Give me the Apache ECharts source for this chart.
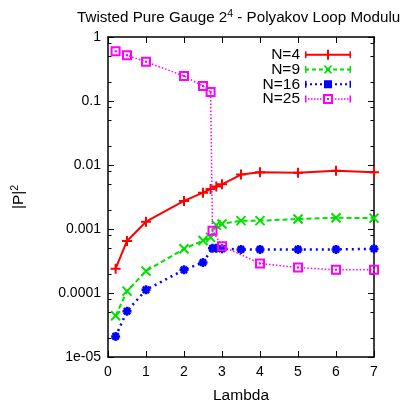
<!DOCTYPE html>
<html>
<head>
<meta charset="utf-8">
<script src="https://cdn.jsdelivr.net/npm/echarts@6/dist/echarts.min.js"></script>
<style>html,body{margin:0;padding:0;background:#fff;}#c{width:403px;height:404px;}</style>
</head>
<body>
<div id="c"></div>
<script>
// ---- data ----
const seriesNames = ['N=4', 'N=9', 'N=16', 'N=25'];
const n4Lambda  = [0.2, 0.5, 1, 2, 2.5, 2.7, 2.85, 3, 3.5, 4, 5, 6, 7];
const n4Values  = [2.4e-4, 6.5e-4, 1.3e-3, 2.75e-3, 3.7e-3, 4.2e-3, 4.6e-3, 5.0e-3, 7.1e-3, 7.7e-3, 7.6e-3, 8.1e-3, 7.7e-3];
const n9Lambda  = [0.2, 0.5, 1, 2, 2.5, 2.7, 2.85, 3, 3.5, 4, 5, 6, 7];
const n9Values  = [4.4e-5, 1.07e-4, 2.2e-4, 4.9e-4, 6.6e-4, 7.4e-4, 1.15e-3, 1.2e-3, 1.35e-3, 1.35e-3, 1.43e-3, 1.5e-3, 1.48e-3];
const n16Lambda = [0.2, 0.5, 1, 2, 2.5, 2.75, 2.85, 3, 3.5, 4, 5, 6, 7];
const n16Values = [2.1e-5, 5.2e-5, 1.12e-4, 2.3e-4, 3.0e-4, 5.0e-4, 5.0e-4, 4.9e-4, 4.8e-4, 4.8e-4, 4.8e-4, 4.8e-4, 4.9e-4];
const n25Lambda = [0.2, 0.5, 1, 2, 2.5, 2.7, 2.75, 3, 4, 5, 6, 7];
const n25Values = [0.6, 0.52, 0.41, 0.246, 0.171, 0.138, 9.4e-4, 5.4e-4, 2.9e-4, 2.5e-4, 2.3e-4, 2.3e-4];
const xTicks = [0, 1, 2, 3, 4, 5, 6, 7];
const yTickValues = [1e-5, 1e-4, 1e-3, 1e-2, 1e-1, 1];
const yTickLabels = ['1e-05', '0.0001', '0.001', '0.01', '0.1', '1'];
const yMinorMantissas = [2, 5, 8];

const pairs = (xs, ys) => xs.map((x, i) => [x, ys[i]]);
const colors = ['#ff0000', '#00e000', '#0000ff', '#ff00ff'];
const FONT = 'Liberation Sans, Arial, sans-serif';

// legend icon builder (46 x 10 box)
function dashPath(on, off, y0, h, skipFrom, skipTo) {
  let p = '';
  for (let x = 0; x < 46; x += on + off) {
    let e = Math.min(x + on, 46);
    if (skipFrom !== undefined && e > skipFrom && x < skipTo) continue;
    p += `M${x},${y0}h${e - x}v${h}h${-(e - x)}z`;
  }
  return p;
}
const caps = 'M0,1.5h1.5v7h-1.5zM44.5,1.5h1.5v7h-1.5z';
const icons = [
  'path://' + caps + 'M0,4h46v2h-46z' + 'M22,0h2v10h-2zM18,4h10v2h-10z',
  'path://' + caps + dashPath(4, 3, 4, 2) + 'M18.5,1L20.5,1L23,3.6L25.5,1L27.5,1L24.2,5L27.5,9L25.5,9L23,6.4L20.5,9L18.5,9L21.8,5Z',
  'path://' + caps + dashPath(2, 3, 4, 2) + 'M19,1h8v8h-8z',
  'path://' + caps + dashPath(1.5, 1.5, 4.25, 1.5, 18, 28) + 'M18,0h10v10h-10zM20,2v6h6v-6zM22,4h2v2h-2z'
];

const chart = echarts.init(document.getElementById('c'), null, {renderer: 'canvas'});

const axisLine = {show: true, onZero: false, lineStyle: {color: '#000', width: 1.5}};
const labelStyle = {color: '#000', fontSize: 14, fontFamily: FONT};
const nameStyle = {color: '#000', fontSize: 15.5, fontFamily: FONT};

function yFmt(v) {
  for (let i = 0; i < yTickValues.length; i++) {
    if (Math.abs(Math.log10(v) - Math.log10(yTickValues[i])) < 1e-6) return yTickLabels[i];
  }
  return '';
}

const symbolDefs = [
  {symbol: 'path://M0,5H10M5,0V10', size: 10, style: {color: colors[0], borderColor: colors[0], borderWidth: 2}},
  {symbol: 'path://M0,0L10,10M10,0L0,10', size: 9, style: {color: colors[1], borderColor: colors[1], borderWidth: 2}},
  {symbol: 'path://M0,5H10M5,0V10M1.5,1.5L8.5,8.5M8.5,1.5L1.5,8.5', size: 9, style: {color: colors[2], borderColor: colors[2], borderWidth: 2.5}},
  {symbol: 'path://M0,0h10v10h-10zM2,2v6h6v-6zM4,4h2v2h-2z', size: 10, style: {color: colors[3], borderWidth: 0}}
];
const lineStyles = [
  {color: colors[0], width: 2, type: 'solid'},
  {color: colors[1], width: 2, type: [5, 3]},
  {color: colors[2], width: 2.5, type: [2, 4]},
  {color: colors[3], width: 1.5, type: [1.5, 2]}
];
const datasets = [pairs(n4Lambda, n4Values), pairs(n9Lambda, n9Values), pairs(n16Lambda, n16Values), pairs(n25Lambda, n25Values)];

const option = {
  animation: false,
  backgroundColor: '#fff',
  title: {
    text: 'Twisted Pure Gauge 2{sup|4} - Polyakov Loop Modulu',
    left: 72, top: 4,
    textStyle: {
      color: '#000', fontSize: 15.2, fontWeight: 'normal', fontFamily: FONT,
      rich: {sup: {fontSize: 10.5, color: '#000', fontFamily: FONT, padding: [0, 0, 7, 0]}}
    }
  },
  grid: {left: 108, right: 29, top: 37, bottom: 47, containLabel: false, outerBoundsMode: 'none'},
  legend: {
    orient: 'vertical', align: 'right', right: 47, top: 41.7,
    itemWidth: 46, itemHeight: 10, itemGap: -1.2,
    textStyle: {color: '#000', fontSize: 15.5, fontFamily: FONT, lineHeight: 14},
    itemStyle: {borderWidth: 0},
    data: seriesNames.map((n, i) => ({name: n, icon: icons[i]}))
  },
  xAxis: [
    {type: 'value', min: xTicks[0], max: xTicks[xTicks.length - 1], interval: 1, position: 'bottom',
     axisLine, axisTick: {show: true, inside: true, length: 6, lineStyle: {color: '#000', width: 1}},
     axisLabel: {...labelStyle, margin: 8}, splitLine: {show: false},
     name: 'Lambda', nameLocation: 'middle', nameGap: 31, nameTextStyle: nameStyle},
    {type: 'value', min: xTicks[0], max: xTicks[xTicks.length - 1], interval: 1, position: 'top',
     axisLine, axisTick: {show: true, inside: true, length: 6, lineStyle: {color: '#000', width: 1}},
     axisLabel: {show: false}, splitLine: {show: false}}
  ],
  yAxis: [
    {type: 'log', logBase: 10, min: yTickValues[0], max: yTickValues[yTickValues.length - 1], position: 'left',
     axisLine, axisTick: {show: true, inside: true, length: 6, lineStyle: {color: '#000', width: 1}},
     axisLabel: {...labelStyle, margin: 7, formatter: yFmt}, splitLine: {show: false}, minorTick: {show: false},
     name: '|P|{sup|2}', nameLocation: 'middle', nameGap: 80, nameRotate: 90,
     nameTextStyle: {...nameStyle, rich: {sup: {fontSize: 10.5, color: '#000', fontFamily: FONT, padding: [0, 0, 7, 0]}}}},
    {type: 'log', logBase: 10, min: yTickValues[0], max: yTickValues[yTickValues.length - 1], position: 'right',
     axisLine, axisTick: {show: true, inside: true, length: 6, lineStyle: {color: '#000', width: 1}},
     axisLabel: {show: false}, splitLine: {show: false}}
  ],
  series: seriesNames.map((n, i) => ({
    name: n, type: 'line', xAxisIndex: 0, yAxisIndex: 0,
    data: datasets[i],
    symbol: symbolDefs[i].symbol, symbolSize: symbolDefs[i].size, showSymbol: true,
    itemStyle: symbolDefs[i].style,
    lineStyle: lineStyles[i],
    z: 2 + i
  }))
};
chart.setOption(option);

// minor log ticks (2, 5, 8 of each decade) on left and right sides
const xl = chart.convertToPixel({xAxisIndex: 0}, xTicks[0]);
const xr = chart.convertToPixel({xAxisIndex: 0}, xTicks[xTicks.length - 1]);
const g = [];
for (let d = 0; d < yTickValues.length - 1; d++) {
  yMinorMantissas.forEach(m => {
    const y = Math.round(chart.convertToPixel({yAxisIndex: 0}, m * yTickValues[d])) + 0.5;
    g.push({type: 'line', shape: {x1: xl, y1: y, x2: xl + 3.5, y2: y}, style: {stroke: '#000', lineWidth: 1}, silent: true});
    g.push({type: 'line', shape: {x1: xr - 3.5, y1: y, x2: xr, y2: y}, style: {stroke: '#000', lineWidth: 1}, silent: true});
  });
}
chart.setOption({graphic: g});
</script>
</body>
</html>
